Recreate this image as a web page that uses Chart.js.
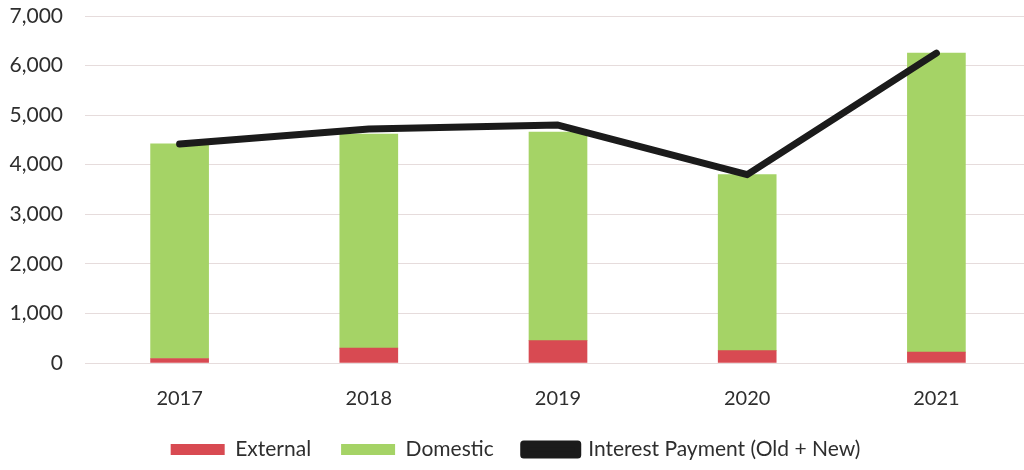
<!DOCTYPE html>
<html>
<head>
<meta charset="utf-8">
<script src="https://cdn.jsdelivr.net/npm/chart.js@4/dist/chart.umd.min.js"></script>
<style>
  html, body { margin: 0; padding: 0; background: #fff; overflow: hidden; }
  #wrap { position: relative; width: 1036px; height: 470px; }
</style>
</head>
<body>
<div id="wrap"><canvas id="interestChart"></canvas></div>
<script>
// yearly interest payments, split by source
var years = ['2017', '2018', '2019', '2020', '2021'];
var externalPay = [90, 300, 450, 250, 220];
var domesticPay = [4330, 4320, 4210, 3550, 6030];
var totalInterest = [4420, 4720, 4800, 3800, 6250];
var yTicks = [0, 1000, 2000, 3000, 4000, 5000, 6000, 7000];

var fontFamily = 'Lato, "Open Sans", sans-serif';
var textColor = '#2e2e2e';

var chart = new Chart(document.getElementById('interestChart').getContext('2d'), {
    type: 'bar',
    data: {
        labels: years,
        datasets: [
            {
                label: 'External',
                data: externalPay,
                backgroundColor: '#d84a52',
                barThickness: 58,
                stack: 'pay',
                order: 2
            },
            {
                label: 'Domestic',
                data: domesticPay,
                backgroundColor: '#a5d366',
                barThickness: 58,
                stack: 'pay',
                order: 2
            },
            {
                type: 'line',
                label: 'Interest Payment (Old + New)',
                data: totalInterest,
                borderColor: '#1b1b1b',
                backgroundColor: '#1b1b1b',
                borderWidth: 7,
                borderCapStyle: 'round',
                borderJoinStyle: 'round',
                pointRadius: 0,
                tension: 0,
                order: 0
            }
        ]
    },
    options: {
        responsive: true,
        maintainAspectRatio: false,
        animation: false,
        layout: { padding: { top: 0, left: 0, right: 5, bottom: 0 } },
        scales: {
            x: {
                stacked: true,
                grid: { display: false },
                border: { display: false },
                ticks: { color: textColor, font: { family: fontFamily, size: 20 }, padding: 16 },
                afterFit: function (scale) { scale.height = 46; }
            },
            y: {
                stacked: true,
                min: 0,
                max: 7000,
                afterBuildTicks: function (axis) {
                    axis.ticks = yTicks.map(function (v) { return { value: v }; });
                },
                grid: { color: 'rgba(205,185,185,0.5)', lineWidth: 1, drawTicks: false },
                border: { display: false },
                ticks: {
                    color: textColor,
                    font: { family: fontFamily, size: 21 },
                    padding: 22,
                    callback: function (v) { return v.toLocaleString('en-US'); }
                },
                afterFit: function (scale) {
                    scale.width = 85;
                    scale.paddingTop = 16;
                    scale.paddingBottom = 0;
                }
            }
        },
        plugins: {
            legend: {
                position: 'bottom',
                labels: {
                    color: textColor,
                    font: { family: fontFamily, size: 21 },
                    boxWidth: 54,
                    boxHeight: 11,
                    padding: 30,
                    sort: function (a, b) { return a.datasetIndex - b.datasetIndex; }
                }
            },
            tooltip: { enabled: false }
        }
    }
});
</script>
</body>
</html>
